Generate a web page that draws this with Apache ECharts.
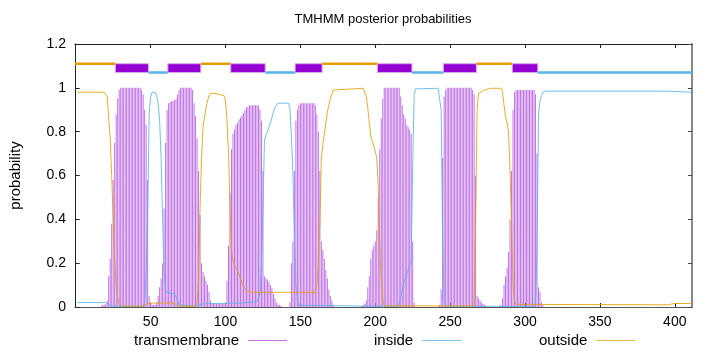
<!DOCTYPE html>
<html><head><meta charset="utf-8">
<script src="https://cdn.jsdelivr.net/npm/echarts@6/dist/echarts.min.js"></script>
<style>html,body{margin:0;padding:0;background:#fff}#c{width:720px;height:352px}</style>
</head><body><div id="c"></div>
<script>
// ---- data ----
const xTickValues = [50, 100, 150, 200, 250, 300, 350, 400];

// transmembrane posterior probability (impulses), runs of consecutive residues
const tmStarts = [17, 143, 191, 243, 283];
const tmValues = [
  [0.005,0.01,0.01,0.012,0.03,0.14,0.22,0.38,0.58,0.75,0.88,0.95,0.99,
   1,1,1,1,1,1,1,1,1,1,1,1,1,1,
   0.99,0.97,0.9,0.83,0.58,0.05,0.02,0.01,0.01,0.01,0.02,0.05,0.09,0.13,0.2,0.45,0.75,0.9,
   0.93,0.935,0.94,0.94,0.945,0.95,0.97,0.99,
   1,1,1,1,1,1,1,1,
   0.99,0.93,0.87,0.77,0.62,0.42,0.2,0.16,0.14,0.12,0.1,0.07,0.03,
   0.015,0.015,0.015,0.015,0.015,0.015,0.015,0.015,0.015,0.015,
   0.12,0.28,0.52,0.72,0.79,0.81,0.83,0.84,0.855,0.865,0.875,0.885,0.9,0.91,0.915,
   0.92,0.92,0.92,0.92,0.92,0.92,0.92,
   0.9,0.85,0.62,0.14,0.13,0.125,0.115,0.1,0.085,0.06,0.04,0.02,0.01,0.01,0.005],
  [0.02,0.2,0.3,0.62,0.85,0.9,0.92,
   0.93,0.93,0.93,0.93,0.93,0.93,0.93,0.93,0.93,0.93,
   0.92,0.88,0.8,0.62,0.3,0.26,0.22,0.17,0.13,0.08,0.05,0.03,0.01],
  [0.005,0.008,0.015,0.03,0.09,0.14,0.22,0.26,0.28,0.3,0.35,0.5,0.72,0.86,0.95,
   1,1,1,1,1,1,1,1,1,1,1,
   0.96,0.92,0.88,0.86,0.83,0.82,0.81,0.79,0.3,0.02],
  [0.01,0.08,0.68,0.96,0.99,
   1,1,1,1,1,1,1,1,1,1,1,1,1,1,1,1,1,
   0.99,0.97,0.6,0.05,0.04,0.03,0.02,0.015,0.01,0.005],
  [0.005,0.01,0.04,0.1,0.14,0.18,0.25,0.4,0.62,0.9,0.98,
   0.99,0.99,0.99,0.99,0.99,0.99,0.99,0.99,0.99,0.99,0.99,0.99,0.99,
   0.97,0.7,0.09,0.07,0.02,0.01]
];

// inside posterior probability [residue, p]
const insideProb = [[1,0.02],[20,0.02],[21,0.018],[22,0.012],[23,0.008],[24,0.004],[25,0.002],[45,0.002],
  [46,0.02],[47,0.15],[48,0.4],[49,0.88],[50,0.96],[51,0.98],[52,0.985],[53,0.98],[54,0.965],[55,0.93],
  [56,0.85],[57,0.68],[58,0.4],[59,0.15],[60,0.08],[61,0.065],[66,0.06],[67,0.055],[68,0.03],[69,0.01],
  [70,0.003],[80,0.003],[82,0.008],[85,0.015],[110,0.018],[118,0.022],[121,0.025],[122,0.03],[123,0.06],
  [124,0.2],[125,0.45],[126,0.76],[127,0.785],[128,0.8],[129,0.82],[130,0.84],[131,0.865],[132,0.89],
  [133,0.91],[134,0.92],[135,0.93],[142,0.93],[143,0.91],[144,0.78],[145,0.62],[146,0.32],[147,0.1],
  [148,0.03],[149,0.008],[150,0.002],[215,0.002],[216,0.01],[217,0.04],[218,0.08],[219,0.11],[220,0.13],
  [221,0.15],[222,0.17],[223,0.19],[224,0.21],[225,0.65],[226,0.97],[227,0.995],[228,0.998],[242,0.998],
  [243,0.99],[244,0.9],[245,0.3],[246,0.03],[247,0.003],[306,0.003],[307,0.02],[308,0.25],[309,0.88],
  [310,0.94],[311,0.965],[312,0.98],[314,0.985],[395,0.985],[411,0.98]];

// outside posterior probability [residue, p]
const outsideProb = [[1,0.98],[19,0.98],[20,0.975],[21,0.96],[22,0.86],[23,0.77],[24,0.6],[25,0.4],
  [26,0.22],[27,0.1],[28,0.04],[29,0.015],[30,0.005],[44,0.003],[47,0.012],[50,0.018],[64,0.018],
  [67,0.012],[69,0.004],[80,0.003],[81,0.02],[82,0.12],[83,0.45],[84,0.68],[85,0.82],[86,0.87],[87,0.91],
  [88,0.94],[89,0.965],[90,0.975],[93,0.975],[97,0.968],[99,0.965],[100,0.94],[101,0.85],[102,0.7],
  [103,0.45],[104,0.26],[105,0.21],[106,0.19],[107,0.175],[108,0.165],[109,0.15],[110,0.13],[111,0.11],
  [112,0.095],[113,0.085],[114,0.075],[115,0.07],[117,0.067],[160,0.067],[161,0.1],[162,0.2],[163,0.38],
  [164,0.68],[165,0.74],[166,0.79],[167,0.84],[168,0.89],[169,0.92],[170,0.95],[171,0.97],[172,0.99],
  [173,0.997],[192,0.998],[193,0.995],[194,0.96],[195,0.91],[196,0.84],[197,0.78],[198,0.755],[199,0.735],
  [200,0.71],[201,0.68],[202,0.55],[203,0.28],[204,0.12],[205,0.04],[206,0.005],[266,0.005],[267,0.38],
  [268,0.9],[269,0.975],[270,0.98],[273,0.99],[277,0.998],[284,0.998],[285,0.98],[286,0.92],[287,0.87],
  [288,0.84],[289,0.8],[290,0.62],[291,0.38],[292,0.1],[293,0.025],[294,0.012],[395,0.01],[400,0.016],[411,0.016]];

// predicted topology (residue ranges)
const outsideSegs = [[0,26],[84,103],[165,201],[268,291]];
const tmSegs = [[27,48],[62,83],[104,126],[147,164],[202,224],[246,267],[292,308]];
const insideSegs = [[49,61],[127,146],[225,245],[309,411]];

// ---- build ----
const tmData = [];
tmStarts.forEach((s, i) => tmValues[i].forEach((v, j) => tmData.push([s + j, v])));

const FONT = 'Liberation Sans';
const chart = echarts.init(document.getElementById('c'), null, {renderer: 'canvas'});

function segLine(level, color) {
  return function (params, api) {
    const p1 = api.coord([api.value(0) - 0.5, level]);
    const p2 = api.coord([api.value(1) + 0.5, level]);
    return {type: 'line', shape: {x1: p1[0], y1: p1[1], x2: p2[0], y2: p2[1]},
            style: {stroke: color, lineWidth: 2.5}};
  };
}

chart.setOption({
  animation: false,
  backgroundColor: '#fff',
  title: {
    text: 'TMHMM posterior probabilities', left: 383, top: 13, textAlign: 'center', padding: 0,
    textStyle: {fontFamily: FONT, fontSize: 13, fontWeight: 'normal', color: '#000'}
  },
  grid: {left: 73, top: 44, width: 619, height: 263, containLabel: false},
  legend: [
    {data: [{name: 'transmembrane', icon: 'rect'}], left: 134, top: 333, align: 'right', padding: 0,
     itemWidth: 39, itemHeight: 1, selectedMode: false,
     textStyle: {fontFamily: FONT, fontSize: 15, color: '#000', padding: [0, 4, 0, 0]}},
    {data: [{name: 'inside', icon: 'rect'}], left: 374, top: 333, align: 'right', padding: 0,
     itemWidth: 39, itemHeight: 1, selectedMode: false,
     textStyle: {fontFamily: FONT, fontSize: 15, color: '#000', padding: [0, 4, 0, 0]}},
    {data: [{name: 'outside', icon: 'rect'}], left: 539, top: 333, align: 'right', padding: 0,
     itemWidth: 39, itemHeight: 1, selectedMode: false,
     textStyle: {fontFamily: FONT, fontSize: 15, color: '#000', padding: [0, 4, 0, 0]}}
  ],
  xAxis: [
    {type: 'value', position: 'bottom', min: -0.5, max: 411.5,
     axisLine: {show: true, lineStyle: {color: '#555', width: 1}},
     axisTick: {show: true, inside: true, length: 4, customValues: xTickValues, lineStyle: {color: '#222'}},
     axisLabel: {show: true, customValues: xTickValues, margin: 8, fontFamily: FONT, fontSize: 14, color: '#000'},
     splitLine: {show: false}},
    {type: 'value', position: 'top', min: -0.5, max: 411.5,
     axisLine: {show: true, onZero: false, lineStyle: {color: '#222', width: 1}},
     axisTick: {show: true, inside: true, length: 4, customValues: xTickValues, lineStyle: {color: '#222'}},
     axisLabel: {show: false}, splitLine: {show: false}}
  ],
  yAxis: [
    {type: 'value', position: 'left', min: 0, max: 1.2, interval: 0.2,
     name: 'probability', nameLocation: 'middle', nameGap: 52, nameRotate: 90,
     nameTextStyle: {fontFamily: FONT, fontSize: 15, color: '#000'},
     axisLine: {show: true, lineStyle: {color: '#222', width: 1}},
     axisTick: {show: true, inside: true, length: 4, lineStyle: {color: '#222'}},
     axisLabel: {margin: 9, fontFamily: FONT, fontSize: 14, color: '#000'},
     splitLine: {show: false}},
    {type: 'value', position: 'right', min: 0, max: 1.2, interval: 0.2,
     axisLine: {show: true, onZero: false, lineStyle: {color: '#888', width: 2}},
     axisTick: {show: true, inside: true, length: 4, lineStyle: {color: '#444'}},
     axisLabel: {show: false}, splitLine: {show: false}}
  ],
  series: [
    {name: 'transmembrane', type: 'bar', xAxisIndex: 0, yAxisIndex: 0, data: tmData,
     barWidth: 1, itemStyle: {color: '#c073e5'}, z: 2, silent: true},
    {name: 'inside', type: 'line', data: insideProb, showSymbol: false, symbol: 'none',
     lineStyle: {color: '#56b4e9', width: 1, opacity: 0.85}, itemStyle: {color: '#7cc4ee'}, z: 3, silent: true},
    {name: 'outside', type: 'line', data: outsideProb, showSymbol: false, symbol: 'none',
     lineStyle: {color: '#e69f00', width: 1, opacity: 0.85}, itemStyle: {color: '#ecb440'}, z: 4, silent: true},
    {name: 'topo-outside', type: 'custom', data: outsideSegs, encode: {x: [0, 1]},
     renderItem: segLine(1.11, '#e69f00'), z: 5, silent: true},
    {name: 'topo-inside', type: 'custom', data: insideSegs, encode: {x: [0, 1]},
     renderItem: segLine(1.07, '#56b4e9'), z: 5, silent: true},
    {name: 'topo-tm', type: 'custom', data: tmSegs, encode: {x: [0, 1]}, z: 6, silent: true,
     renderItem: function (params, api) {
       const p1 = api.coord([api.value(0) - 0.5, 1.11]);
       const p2 = api.coord([api.value(1) + 0.5, 1.07]);
       return {type: 'rect', shape: {x: p1[0], y: p1[1], width: p2[0] - p1[0], height: p2[1] - p1[1]},
               style: {fill: '#9400d3', stroke: '#d9a6ef', lineWidth: 1}};
     }}
  ]
});
</script></body></html>
